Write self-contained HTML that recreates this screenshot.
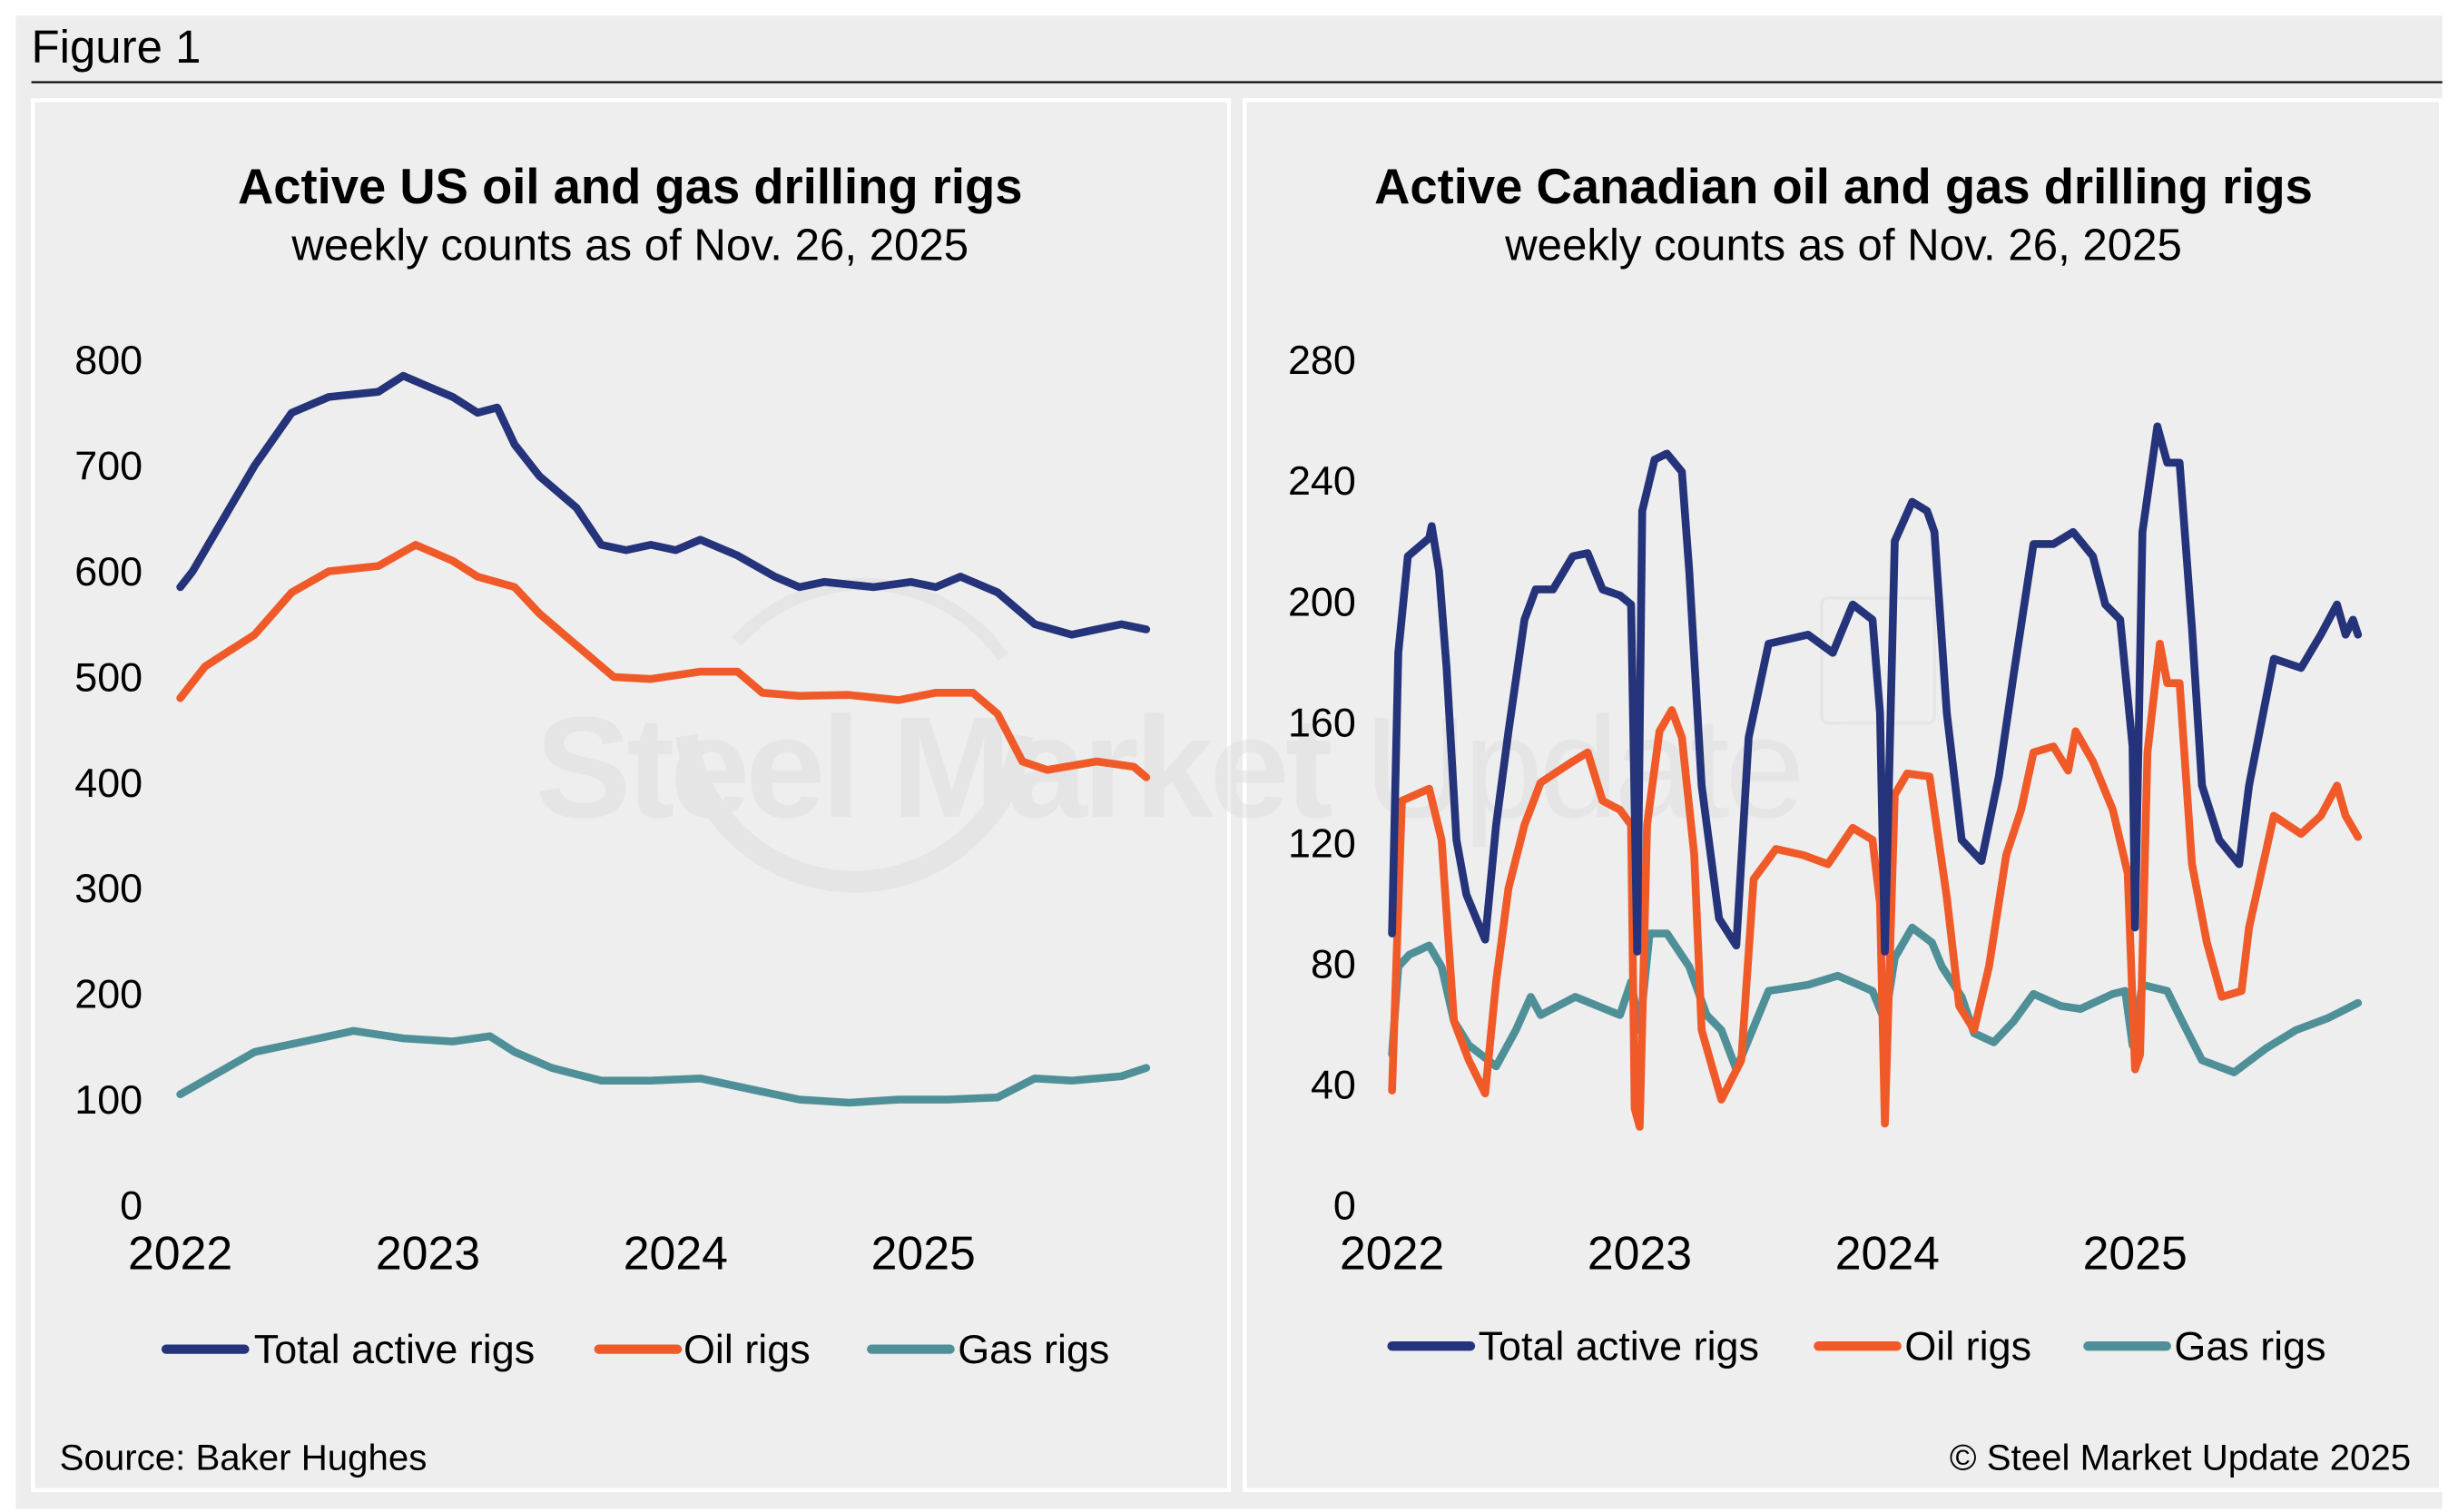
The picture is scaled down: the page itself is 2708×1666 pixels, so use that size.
<!DOCTYPE html>
<html><head><meta charset="utf-8"><style>
html,body{margin:0;padding:0;background:#fff;}
svg{display:block;font-family:"Liberation Sans",Arial,sans-serif;}
</style></head><body>
<svg id="s" width="2708" height="1666" viewBox="0 0 1568 966" preserveAspectRatio="none" xmlns="http://www.w3.org/2000/svg">
<rect x="0" y="0" width="1568" height="966" fill="#fff"/>
<rect x="10" y="10" width="1548" height="954" fill="#ededed"/>
<text x="20" y="40" font-size="29.5" fill="#000">Figure 1</text>
<line x1="20" y1="52.5" x2="1558" y2="52.5" stroke="#000" stroke-width="1.2"/>
<rect x="21" y="64" width="763" height="888" fill="#eeeeee" stroke="#fff" stroke-width="2.5"/>
<rect x="794" y="64" width="763" height="888" fill="#eeeeee" stroke="#fff" stroke-width="2.5"/>
<!-- watermark -->
<g opacity="0.45">
<path d="M 438 470 A 108 108 0 0 0 652 470" fill="none" stroke="#dcdcdc" stroke-width="14"/>
<path d="M 470 410 A 108 108 0 0 1 640 420" fill="none" stroke="#dcdcdc" stroke-width="8"/>
<text x="745" y="522" font-size="92" font-weight="bold" fill="#dcdcdc" text-anchor="middle" letter-spacing="-3">Steel Market <tspan font-weight="normal">Update</tspan></text>
<rect x="1162" y="382" width="72" height="80" rx="4" fill="none" stroke="#dcdcdc" stroke-width="2"/>
</g>
<text x="402" y="130" font-size="31.5" font-weight="bold" text-anchor="middle">Active US oil and gas drilling rigs</text>
<text x="402" y="166" font-size="28.5" text-anchor="middle">weekly counts as of Nov. 26, 2025</text>
<text x="1176" y="130" font-size="31.5" font-weight="bold" text-anchor="middle">Active Canadian oil and gas drilling rigs</text>
<text x="1176" y="166" font-size="28.5" text-anchor="middle">weekly counts as of Nov. 26, 2025</text>
<g id="g"></g>
<g font-size="26">
<line x1="106" y1="862" x2="156" y2="862" stroke="#24337a" stroke-width="6" stroke-linecap="round"/><text x="162" y="871">Total active rigs</text>
<line x1="382" y1="862" x2="432" y2="862" stroke="#f05a28" stroke-width="6" stroke-linecap="round"/><text x="436" y="871">Oil rigs</text>
<line x1="556" y1="862" x2="606" y2="862" stroke="#4f9098" stroke-width="6" stroke-linecap="round"/><text x="611" y="871">Gas rigs</text>
<line x1="888" y1="860" x2="938" y2="860" stroke="#24337a" stroke-width="6" stroke-linecap="round"/><text x="943" y="869">Total active rigs</text>
<line x1="1160" y1="860" x2="1210" y2="860" stroke="#f05a28" stroke-width="6" stroke-linecap="round"/><text x="1215" y="869">Oil rigs</text>
<line x1="1332" y1="860" x2="1382" y2="860" stroke="#4f9098" stroke-width="6" stroke-linecap="round"/><text x="1387" y="869">Gas rigs</text>
</g>
<text x="38" y="939" font-size="23.3">Source: Baker Hughes</text>
<text x="1538" y="939" font-size="23.3" text-anchor="end">© Steel Market Update 2025</text>
</svg>
<script>
var NS="http://www.w3.org/2000/svg",G=document.getElementById("g");
function el(t,a,txt){var e=document.createElementNS(NS,t);for(var k in a)e.setAttribute(k,a[k]);if(txt!=null)e.textContent=txt;G.appendChild(e);return e;}
function chart(x0,yr,ky,ticks,lblx,series){
 ticks.forEach(function(v){el("text",{x:lblx,y:770-v*ky+9,"font-size":26,"text-anchor":"end"},String(v));});
 [2022,2023,2024,2025].forEach(function(y,i){el("text",{x:x0+i*yr,y:811,"font-size":30,"text-anchor":"middle"},String(y));});
 series.forEach(function(s){var d=s.p.map(function(p,i){return (i?"L":"M")+(x0+p[0]*yr).toFixed(1)+","+(770-p[1]*ky).toFixed(1);}).join("");
  el("path",{d:d,fill:"none",stroke:s.c,"stroke-width":5,"stroke-linejoin":"round","stroke-linecap":"round"});});
}
var N="#24337a",O="#f05a28",T="#4f9098";
chart(115,158,0.675,[0,100,200,300,400,500,600,700,800],91,[
{c:T,p:[[0,105],[0.15,125],[0.3,145],[0.5,155],[0.7,165],[0.9,158],[1.1,155],[1.25,160],[1.35,145],[1.5,130],[1.7,118],[1.9,118],[2.1,120],[2.3,110],[2.5,100],[2.7,97],[2.9,100],[3.1,100],[3.3,102],[3.45,120],[3.6,118],[3.8,122],[3.9,130]]},
{c:O,p:[[0,480],[0.1,510],[0.3,540],[0.45,580],[0.6,600],[0.8,605],[0.95,625],[1.1,610],[1.2,595],[1.35,585],[1.45,560],[1.6,530],[1.75,500],[1.9,498],[2.1,505],[2.25,505],[2.35,485],[2.5,482],[2.7,483],[2.9,478],[3.05,485],[3.2,485],[3.3,465],[3.4,420],[3.5,412],[3.7,420],[3.85,415],[3.9,405]]},
{c:N,p:[[0,585],[0.05,600],[0.15,640],[0.3,700],[0.45,750],[0.6,765],[0.8,770],[0.9,785],[1.0,775],[1.1,765],[1.2,750],[1.28,755],[1.35,720],[1.45,690],[1.6,660],[1.7,625],[1.8,620],[1.9,625],[2.0,620],[2.1,630],[2.25,615],[2.4,595],[2.5,585],[2.6,590],[2.8,585],[2.95,590],[3.05,585],[3.15,595],[3.3,580],[3.45,550],[3.6,540],[3.7,545],[3.8,550],[3.9,545]]}
]);
chart(888,158,1.9286,[0,40,80,120,160,200,240,280],865,[
{c:T,p:[[0,50],[0.025,79],[0.07,83],[0.15,86],[0.2,79],[0.25,61],[0.31,53],[0.42,46],[0.5,58],[0.56,69],[0.6,63],[0.74,69],[0.92,63],[0.965,74],[1.0,58],[1.04,90],[1.11,90],[1.2,79],[1.27,63],[1.33,58],[1.39,45],[1.52,71],[1.68,73],[1.8,76],[1.94,71],[1.99,61],[2.03,82],[2.1,92],[2.18,87],[2.22,79],[2.3,69],[2.35,57],[2.43,54],[2.51,61],[2.59,70],[2.7,66],[2.78,65],[2.91,70],[2.96,71],[2.99,53],[3.03,73],[3.13,71],[3.19,61],[3.27,48],[3.4,44],[3.53,52],[3.65,58],[3.78,62],[3.9,67]]},
{c:O,p:[[0,38],[0.04,134],[0.15,138],[0.2,121],[0.25,61],[0.31,48],[0.376,37],[0.42,74],[0.47,105],[0.535,126],[0.6,140],[0.73,147],[0.79,150],[0.85,134],[0.92,131],[0.965,126],[0.98,32],[1.0,26],[1.03,126],[1.08,157],[1.13,164],[1.17,155],[1.22,116],[1.25,58],[1.33,35],[1.41,48],[1.46,108],[1.55,118],[1.66,116],[1.76,113],[1.86,125],[1.94,121],[1.97,100],[1.99,27],[2.03,136],[2.08,143],[2.17,142],[2.24,102],[2.29,66],[2.35,58],[2.41,79],[2.48,116],[2.54,131],[2.59,150],[2.67,152],[2.73,144],[2.76,157],[2.83,147],[2.91,131],[2.97,110],[3.0,45],[3.02,50],[3.05,150],[3.1,186],[3.13,173],[3.18,173],[3.23,113],[3.29,87],[3.35,69],[3.43,71],[3.46,92],[3.56,129],[3.67,123],[3.75,129],[3.815,139],[3.85,129],[3.9,122]]},
{c:N,p:[[0,90],[0.025,183],[0.064,215],[0.15,221],[0.16,225],[0.19,210],[0.22,178],[0.26,121],[0.3,103],[0.34,95],[0.376,88],[0.42,126],[0.47,157],[0.535,194],[0.58,204],[0.65,204],[0.73,215],[0.79,216],[0.85,204],[0.92,202],[0.965,199],[0.99,84],[1.01,230],[1.06,247],[1.11,249],[1.17,243],[1.2,210],[1.25,139],[1.32,95],[1.39,86],[1.44,155],[1.52,186],[1.68,189],[1.78,183],[1.86,199],[1.94,194],[1.97,163],[1.99,84],[2.03,220],[2.1,233],[2.16,230],[2.19,223],[2.24,163],[2.3,121],[2.38,114],[2.45,142],[2.51,176],[2.59,219],[2.67,219],[2.75,223],[2.83,215],[2.88,199],[2.94,194],[2.99,152],[3.0,92],[3.03,223],[3.09,258],[3.13,246],[3.18,246],[3.23,191],[3.27,139],[3.34,121],[3.42,113],[3.46,139],[3.56,181],[3.67,178],[3.75,189],[3.815,199],[3.85,189],[3.88,194],[3.9,189]]}
]);
</script>
</body></html>
